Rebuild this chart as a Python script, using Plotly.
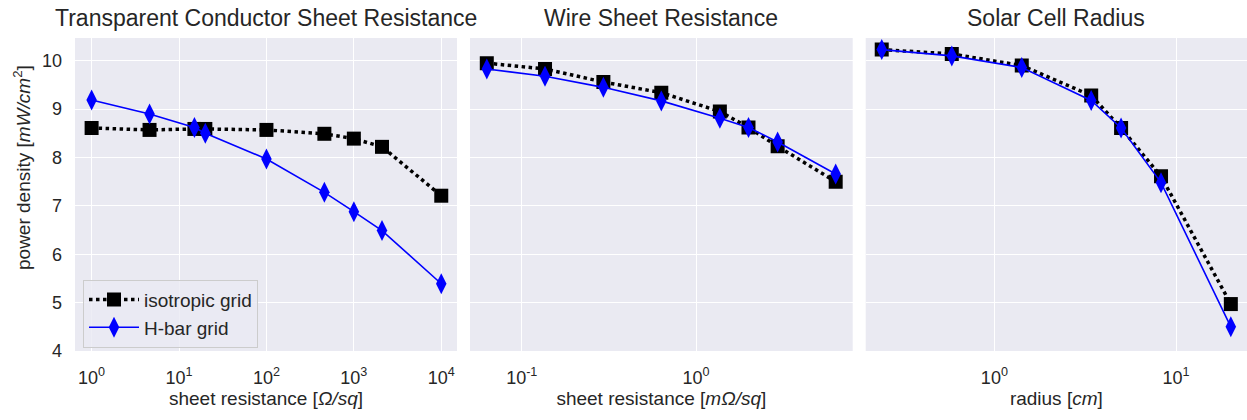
import plotly.graph_objects as go

# ---- data ----
titles = ["Transparent Conductor Sheet Resistance", "Wire Sheet Resistance", "Solar Cell Radius"]
series_names = ["isotropic grid", "H-bar grid"]

p1_x = [1, 4.6, 15, 20, 100, 460, 1000, 2100, 10000]
p1_iso = [8.61, 8.57, 8.59, 8.59, 8.57, 8.49, 8.39, 8.22, 7.21]
p1_hbar = [9.19, 8.90, 8.62, 8.50, 7.97, 7.28, 6.88, 6.49, 5.39]

p2_x = [0.063, 0.136, 0.294, 0.632, 1.37, 2.0, 2.94, 6.33]
p2_iso = [9.95, 9.83, 9.56, 9.34, 8.95, 8.62, 8.23, 7.50]
p2_hbar = [9.83, 9.68, 9.45, 9.17, 8.81, 8.62, 8.32, 7.66]

p3_x = [0.24, 0.583, 1.415, 3.41, 4.98, 8.26, 20.0]
p3_iso = [10.23, 10.14, 9.90, 9.28, 8.61, 7.61, 4.97]
p3_hbar = [10.23, 10.10, 9.86, 9.18, 8.61, 7.48, 4.50]

x1_ticks = [1, 10, 100, 1000, 10000]
x1_labels = ["10<sup>0</sup>", "10<sup>1</sup>", "10<sup>2</sup>", "10<sup>3</sup>", "10<sup>4</sup>"]
x2_ticks = [0.1, 1]
x2_labels = ["10<sup>-1</sup>", "10<sup>0</sup>"]
x3_ticks = [1, 10]
x3_labels = ["10<sup>0</sup>", "10<sup>1</sup>"]
y_ticks = [4, 5, 6, 7, 8, 9, 10]

x_titles = ["sheet resistance [<i>Ω/sq</i>]", "sheet resistance [<i>mΩ/sq</i>]", "radius [<i>cm</i>]"]
y_title = "power density [<i>mW/cm</i><sup>2</sup>]"

# ---- figure ----
W, H = 1247, 420
T, B = 38, 69
FONT = "Liberation Sans, Arial, sans-serif"
TXT = "#262626"
BG = "#EAEAF2"

fig = go.Figure()

panels = [(p1_x, p1_iso, p1_hbar), (p2_x, p2_iso, p2_hbar), (p3_x, p3_iso, p3_hbar)]
for i, (xs, iso, hb) in enumerate(panels):
    ax = "" if i == 0 else str(i + 1)
    fig.add_trace(go.Scatter(
        x=xs, y=iso, mode="lines+markers", name=series_names[0],
        line=dict(color="black", width=3.5, dash="dot"),
        marker=dict(symbol="square", size=14, color="black"),
        xaxis="x" + ax, yaxis="y" + ax, showlegend=(i == 0)))
    fig.add_trace(go.Scatter(
        x=xs, y=hb, mode="lines+markers", name=series_names[1],
        line=dict(color="#0000ff", width=1.6),
        marker=dict(symbol="diamond-tall", size=15, color="#0000ff"),
        xaxis="x" + ax, yaxis="y" + ax, showlegend=(i == 0)))

domains = [(75 / W, 457 / W), (470 / W, 852.7 / W), (865.7 / W, 1.0)]
ranges = [(-0.19, 4.18), (-1.297, 0.899), (-0.708, 1.39)]
xticks = [(x1_ticks, x1_labels), (x2_ticks, x2_labels), (x3_ticks, x3_labels)]

common_ax = dict(showline=False, zeroline=False, gridcolor="white", gridwidth=1.3,
                 tickfont=dict(family=FONT, size=18, color=TXT), ticks="")

layout = dict(
    width=W, height=H,
    margin=dict(l=0, r=0, t=T, b=B),
    paper_bgcolor="white", plot_bgcolor=BG,
    font=dict(family=FONT, color=TXT),
    showlegend=True,
    legend=dict(x=83 / W, y=0.228, xanchor="left", yanchor="top",
                bgcolor="rgba(234,234,242,0.8)", bordercolor="#cccccc", borderwidth=1,
                font=dict(family=FONT, size=19, color=TXT), tracegroupgap=0,
                itemwidth=50),
)
for i in range(3):
    k = "" if i == 0 else str(i + 1)
    layout["xaxis" + k] = dict(
        type="log", domain=list(domains[i]), range=list(ranges[i]),
        anchor="y" + k, tickvals=xticks[i][0], ticktext=xticks[i][1],
        ticklabelstandoff=14,
        title=dict(text=x_titles[i], font=dict(family=FONT, size=19, color=TXT), standoff=4),
        **common_ax)
    ydict = dict(domain=[0, 1], range=[4, 10.47], anchor="x" + k, tickvals=y_ticks, **common_ax)
    if i == 0:
        ydict.update(showticklabels=True, ticklabelstandoff=12)
    else:
        ydict.update(showticklabels=False, matches="y")
    layout["yaxis" + k] = ydict

fig.update_layout(**layout)

# y-axis label (placed as in the reference, slightly above the axis centre)
fig.add_annotation(text=y_title, textangle=-90, x=22 / W, y=(H - B - 168) / (H - T - B),
                   xref="paper", yref="paper", xanchor="center", yanchor="middle",
                   showarrow=False, font=dict(family=FONT, size=19, color=TXT))

for i in range(3):
    cx = (domains[i][0] + domains[i][1]) / 2
    fig.add_annotation(text=titles[i], x=cx, y=1 + (T - 18) / (H - T - B),
                       xref="paper", yref="paper",
                       xanchor="center", yanchor="middle", showarrow=False,
                       font=dict(family=FONT, size=23, color=TXT))

fig.write_html("out.html")
